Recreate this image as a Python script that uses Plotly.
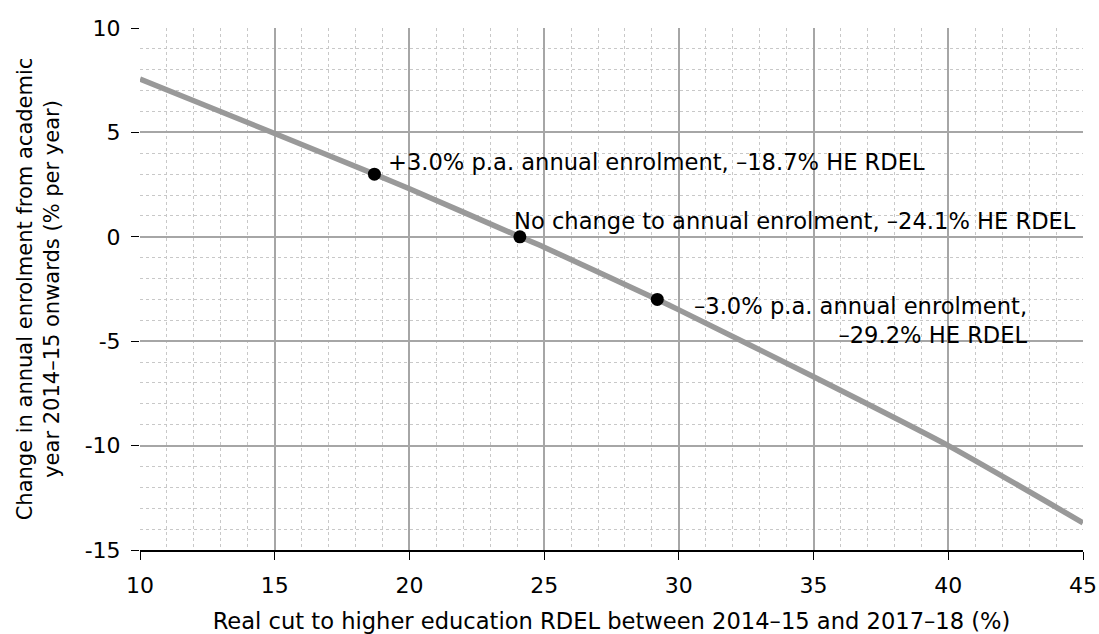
import plotly.graph_objects as go

# curve data
cut_pct = [10, 15, 18.7, 20, 24.1, 25, 29.2, 30, 35, 40, 45]
enrol_change = [7.55, 4.95, 3.0, 2.3, 0.0, -0.5, -3.0, -3.5, -6.7, -10.0, -13.7]

# highlighted scenarios
pt_x = [18.7, 24.1, 29.2]
pt_y = [3.0, 0.0, -3.0]
pt_labels = [
    "+3.0% p.a. annual enrolment, –18.7% HE RDEL",
    "No change to annual enrolment, –24.1% HE RDEL",
    "–3.0% p.a. annual enrolment,<br>–29.2% HE RDEL",
]

x_ticks = [10, 15, 20, 25, 30, 35, 40, 45]
y_ticks = [10, 5, 0, -5, -10, -15]
y_ticktext = ["10", "5", "0", "-5", "-10", "-15"]

FONT = "DejaVu Sans"
FS = 22.6

fig = go.Figure()
fig.add_trace(go.Scatter(
    x=cut_pct, y=enrol_change, mode="lines",
    line=dict(color="#999999", width=5.5, shape="spline", smoothing=0.6),
    hoverinfo="skip", showlegend=False,
))
fig.add_trace(go.Scatter(
    x=pt_x, y=pt_y, mode="markers",
    marker=dict(color="black", size=13),
    showlegend=False,
))

afont = dict(size=FS, color="black", family=FONT)
fig.add_annotation(x=pt_x[0], y=pt_y[0], text=pt_labels[0], showarrow=False,
                   xanchor="left", yanchor="middle", xshift=12, yshift=12, font=afont)
fig.add_annotation(x=pt_x[1], y=pt_y[1], text=pt_labels[1], showarrow=False,
                   xanchor="left", yanchor="middle", xshift=-8, yshift=16, font=afont)
fig.add_annotation(x=43.04, y=pt_y[2], text=pt_labels[2], showarrow=False,
                   xanchor="right", yanchor="middle", align="right", yshift=-21, font=afont)

fig.update_layout(
    width=1099, height=634,
    margin=dict(l=140, r=16, t=28, b=84),
    paper_bgcolor="white", plot_bgcolor="white",
    font=dict(family=FONT, size=FS, color="black"),
    xaxis=dict(
        range=[10, 45], tickvals=x_ticks, ticks="outside", ticklen=8,
        tickcolor="black", showgrid=True, gridcolor="#a6a6a6", gridwidth=1.5,
        zeroline=False, showline=True, linecolor="black", linewidth=1.5,
        tickfont=dict(size=22, family=FONT), automargin=False, ticklabelstandoff=7,
        title=dict(text="Real cut to higher education RDEL between 2014–15 and 2017–18 (%)",
                   font=dict(size=FS, family=FONT), standoff=17),
        minor=dict(dtick=1, showgrid=True, gridcolor="#c8c8c8", griddash="dot", gridwidth=1),
    ),
    yaxis=dict(
        range=[-15, 10], tickvals=y_ticks, ticktext=y_ticktext, ticks="outside", ticklen=8,
        tickcolor="black", showgrid=True, gridcolor="#a6a6a6", gridwidth=1.5,
        zeroline=False, showline=False, automargin=False, ticklabelstandoff=6,
        tickfont=dict(size=22, family=FONT),
        title=dict(text="Change in annual enrolment from academic<br>year 2014–15 onwards (% per year)",
                   font=dict(size=21, family=FONT), standoff=19),
        minor=dict(dtick=1, showgrid=True, gridcolor="#c8c8c8", griddash="dot", gridwidth=1),
    ),
)

fig.write_html("out.html", config={"displayModeBar": False},
               post_script="document.body.style.margin='0';document.body.style.overflow='hidden';")
